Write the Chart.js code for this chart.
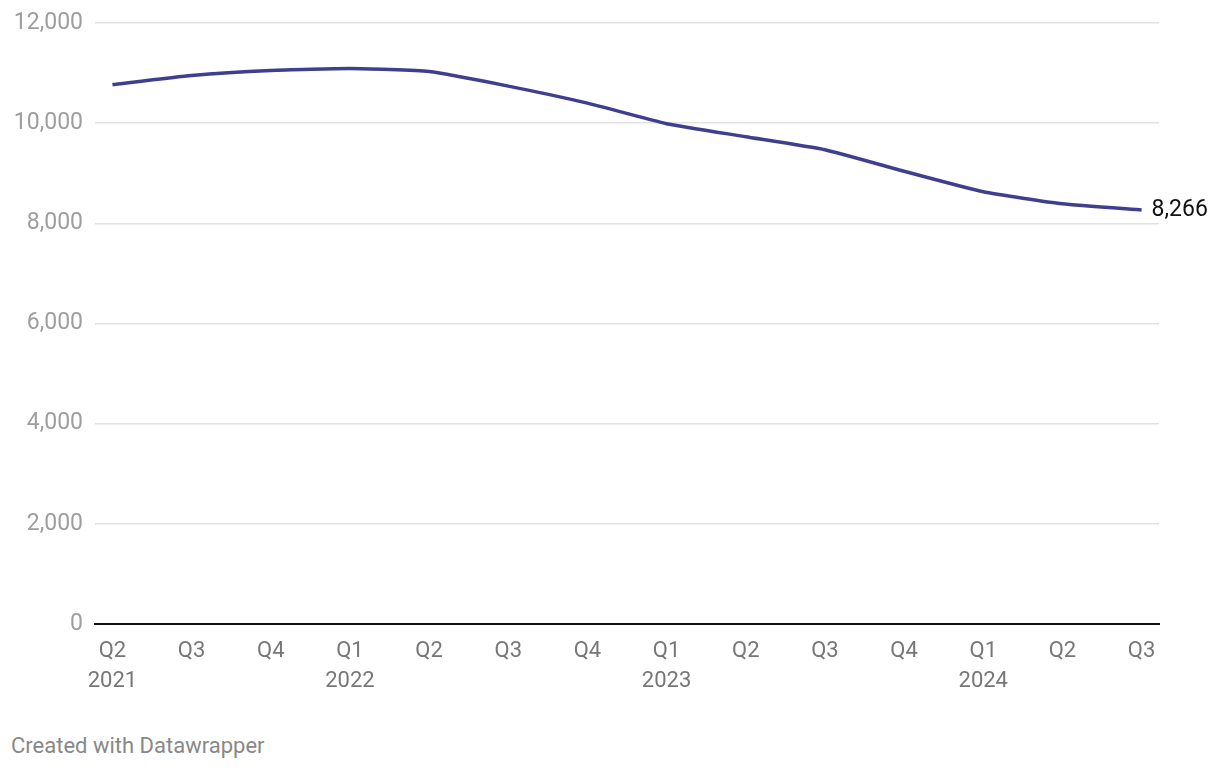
<!DOCTYPE html>
<html>
<head>
<meta charset="utf-8">
<script src="https://cdn.jsdelivr.net/npm/chart.js@4"></script>
<style>
  html, body { margin: 0; padding: 0; background: #fff; }
  #wrap { position: relative; width: 1220px; height: 770px; }
  #footer { position: absolute; left: 11px; top: 733px; font: 22px Roboto, sans-serif; color: #888; }
</style>
</head>
<body>
<div id="wrap">
  <canvas id="chart" width="1220" height="720"></canvas>
  <div id="footer">Created with Datawrapper</div>
</div>
<script>
// quarters and values
const quarters = ['Q2', 'Q3', 'Q4', 'Q1', 'Q2', 'Q3', 'Q4', 'Q1', 'Q2', 'Q3', 'Q4', 'Q1', 'Q2', 'Q3'];
const years = ['2021', '', '', '2022', '', '', '', '2023', '', '', '', '2024', '', ''];
const values = [10770, 10950, 11050, 11090, 11030, 10740, 10400, 9990, 9730, 9470, 9040, 8630, 8390, 8266];
const yTicks = [0, 2000, 4000, 6000, 8000, 10000, 12000];

const points = values.map((v, i) => ({ x: i, y: v }));

const endLabel = {
    id: 'endLabel',
    afterDatasetsDraw(chart) {
        const c = chart.ctx;
        const last = values.length - 1;
        const x = chart.scales.x.getPixelForValue(last);
        const y = chart.scales.y.getPixelForValue(values[last]);
        c.save();
        c.font = '23px Roboto';
        c.fillStyle = '#111';
        c.textBaseline = 'middle';
        c.fillText(values[last].toLocaleString('en-US'), x + 10, y);
        c.restore();
    }
};

new Chart(document.getElementById('chart'), {
    type: 'line',
    data: {
        datasets: [{
            data: points,
            borderColor: '#3f3f8f',
            borderWidth: 3.5,
            pointRadius: 0,
            tension: 0.15
        }]
    },
    options: {
        responsive: false,
        animation: false,
        layout: { padding: { top: 23, right: 61, bottom: 0, left: 0 } },
        plugins: { legend: { display: false }, tooltip: { enabled: false } },
        scales: {
            x: {
                type: 'linear',
                min: -0.22,
                max: values.length - 1 + 0.22,
                afterBuildTicks(scale) {
                    scale.ticks = quarters.map((q, i) => ({ value: i }));
                },
                afterFit(scale) { scale.height = 96; },
                grid: { display: false, drawTicks: false },
                border: { display: true, color: '#111', width: 2 },
                ticks: {
                    autoSkip: false,
                    maxRotation: 0,
                    padding: 13,
                    color: '#777',
                    font: { family: 'Roboto', size: 22, lineHeight: 1.35 },
                    callback: (v) => years[v] ? [quarters[v], years[v]] : quarters[v]
                }
            },
            y: {
                min: 0,
                max: 12000,
                afterBuildTicks(scale) {
                    scale.ticks = yTicks.map(v => ({ value: v }));
                },
                afterFit(scale) { scale.width = 95; },
                grid: {
                    drawTicks: false,
                    color: (ctx) => ctx.tick.value === 0 ? 'rgba(0,0,0,0)' : '#e2e2e2',
                    lineWidth: 1.5
                },
                border: { display: false },
                ticks: {
                    padding: 12,
                    color: '#9e9e9e',
                    font: { family: 'Roboto', size: 23, lineHeight: 0.8 },
                    callback: (v) => v.toLocaleString('en-US')
                }
            }
        }
    },
    plugins: [endLabel]
});
</script>
</body>
</html>
